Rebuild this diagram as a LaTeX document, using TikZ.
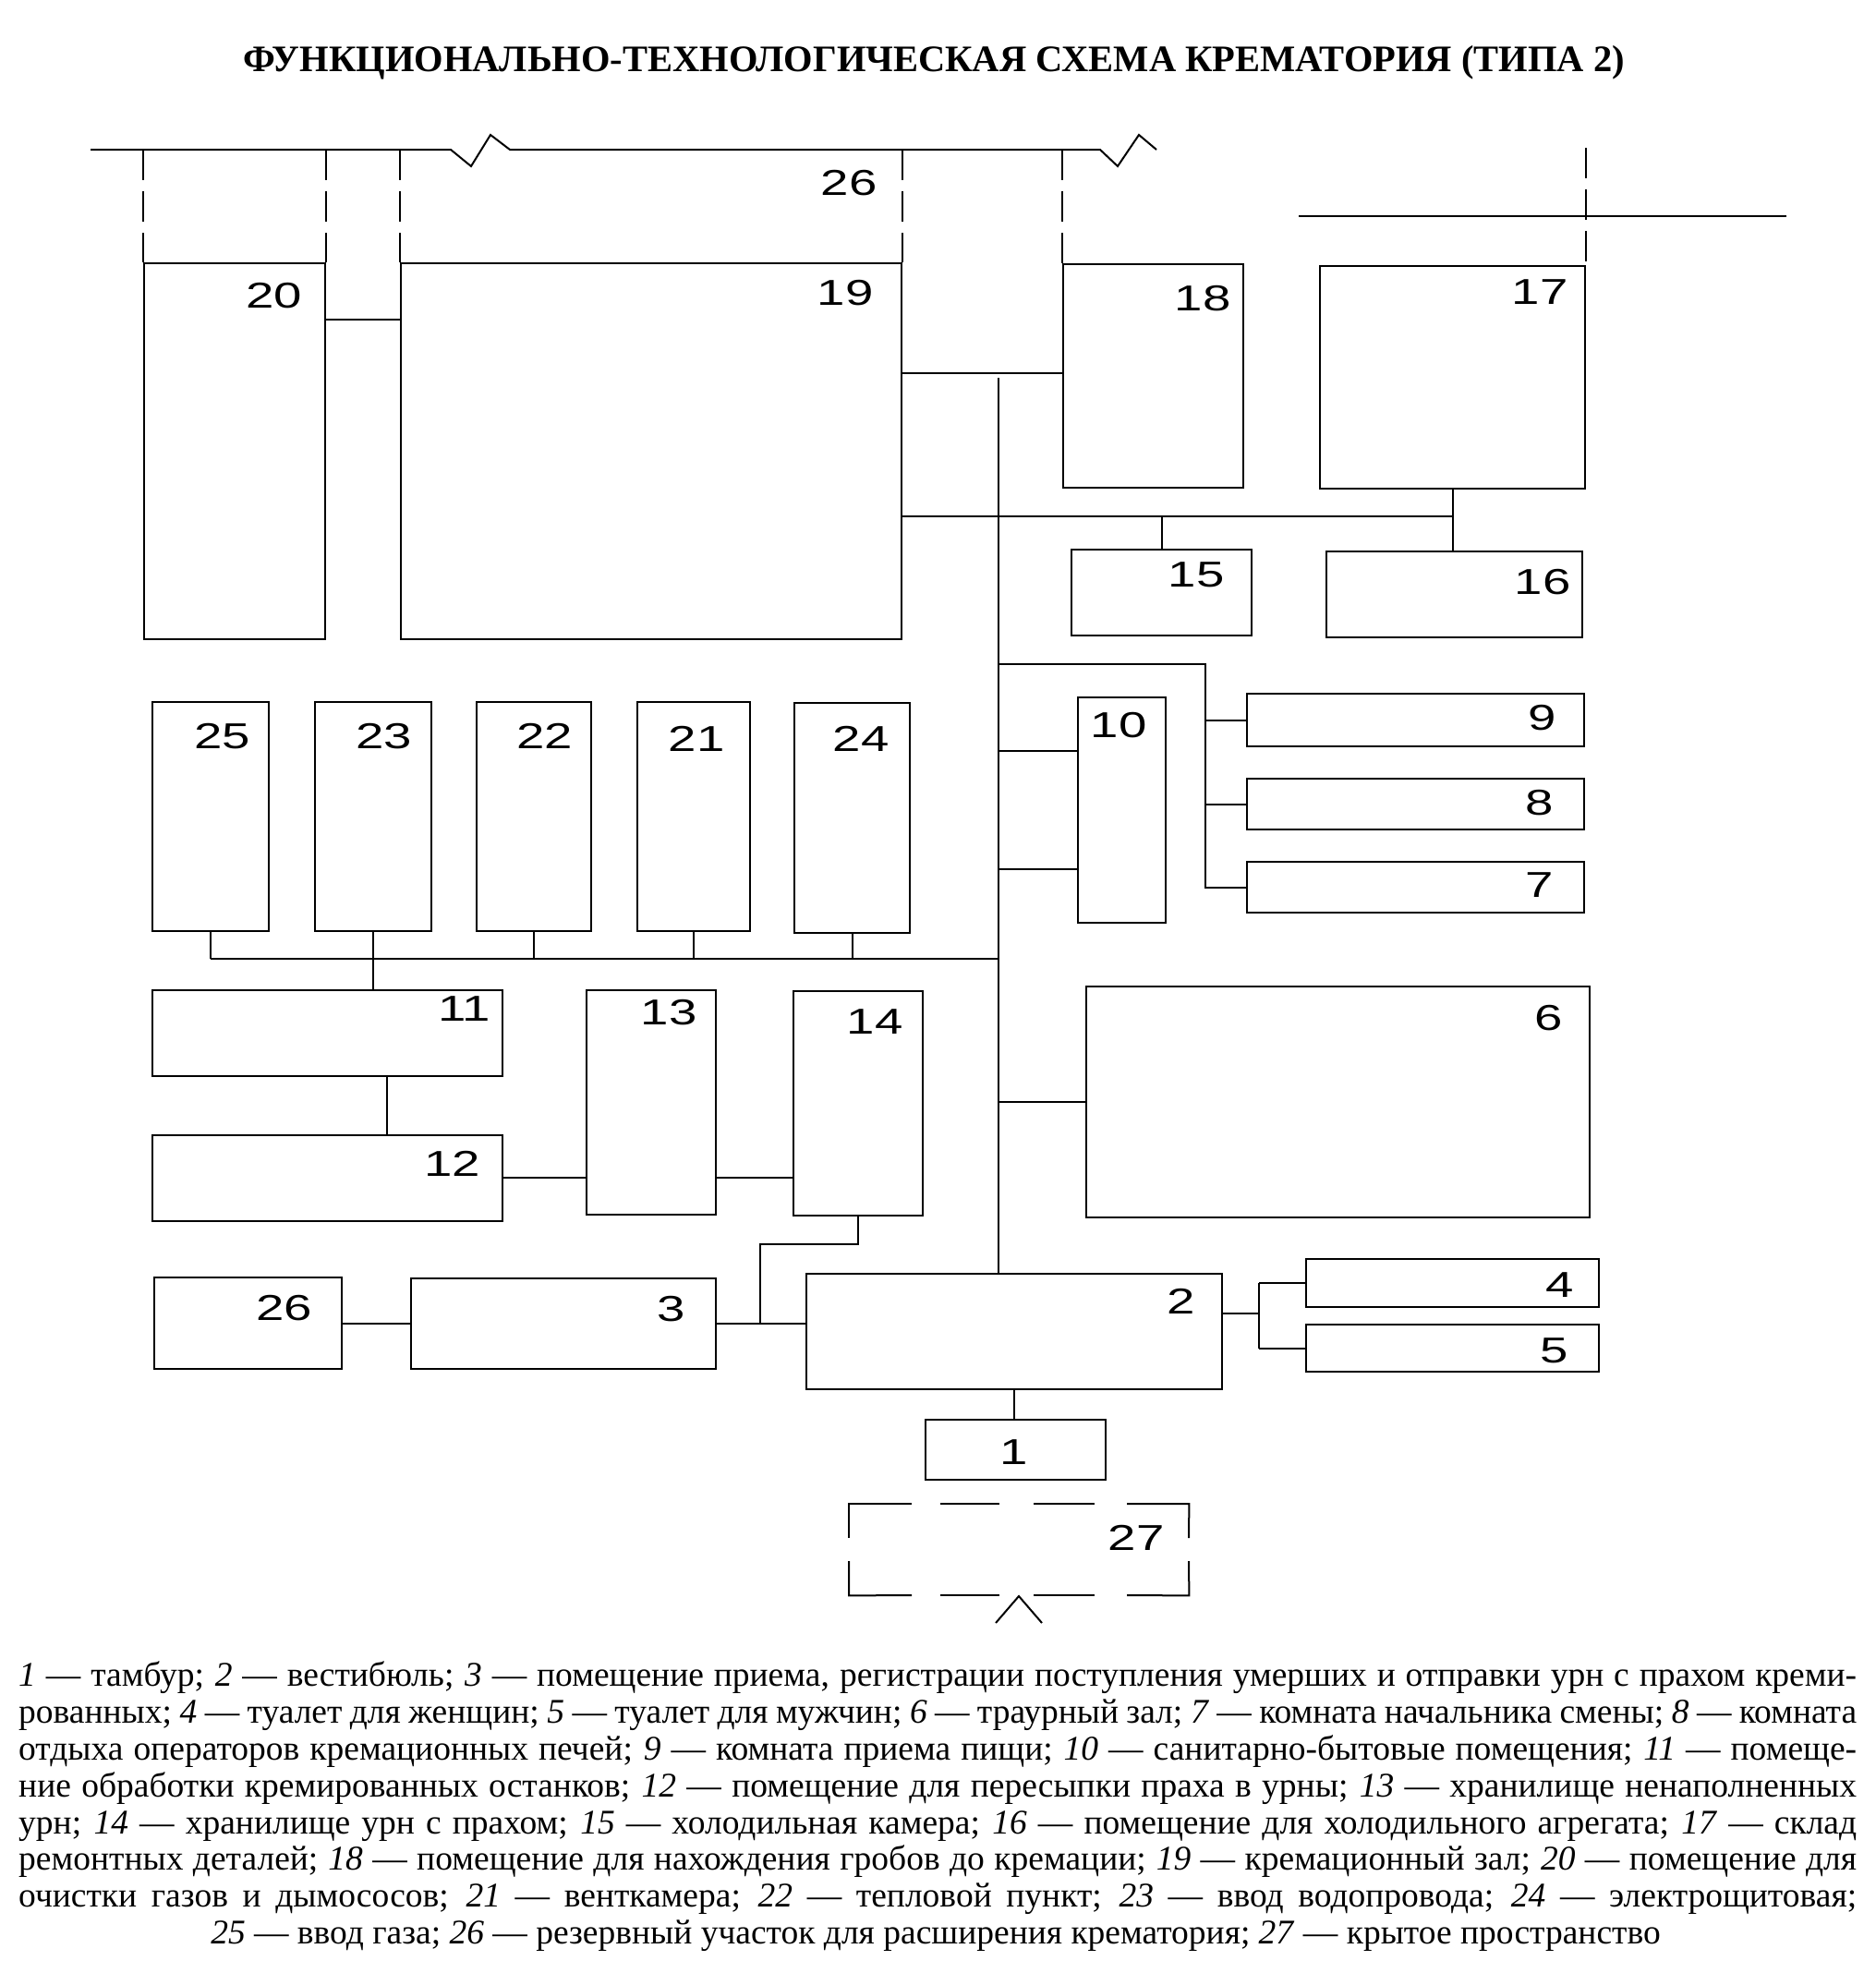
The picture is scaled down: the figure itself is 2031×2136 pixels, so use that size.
\documentclass[tikz,border=0pt]{standalone}
\usepackage{fontspec}
\setmainfont{Liberation Serif}
\newfontfamily\numfont{Liberation Sans}[FakeStretch=1.4]
\newcommand\legsp{\spaceskip=0.25em plus 0.6em minus 0.13em\relax}
\begin{document}
\begin{tikzpicture}[x=1pt,y=-1pt,
  box/.style={draw, line width=2pt, inner sep=0pt, anchor=north west},
  num/.style={font=\numfont\fontsize{39}{39}\selectfont, inner sep=0pt},
  link/.style={line width=2pt},
  zone/.style={line width=2pt, dash pattern=on 33pt off 12pt},
  legline/.style={font=\fontsize{37.5}{40}\selectfont, inner sep=0pt, anchor=base west},
]
\useasboundingbox (0,0) rectangle (2031,2136);
\fill[white] (0,0) rectangle (2031,2136);

\newcommand\roombox[5]{\node[box, minimum width={(#4-#2)*1pt}, minimum height={(#5-#3)*1pt}] (#1) at (#2,#3) {};}
\newcommand\legrow[1]{\legsp\makebox[1990pt][s]{#1}}

% title
\node[font=\bfseries\fontsize{40.5}{41}\selectfont, inner sep=0pt] (title) at (1011,68)
  {ФУНКЦИОНАЛЬНО-ТЕХНОЛОГИЧЕСКАЯ СХЕМА КРЕМАТОРИЯ (ТИПА 2)};

% rooms
\roombox{n20}{155}{284}{351}{691}
\roombox{n19}{433}{284}{975}{691}
\roombox{n18}{1150}{285}{1345}{527}
\roombox{n17}{1428}{287}{1715}{528}
\roombox{n15}{1159}{594}{1354}{687}
\roombox{n16}{1435}{596}{1712}{689}
\roombox{n10}{1166}{754}{1261}{998}
\roombox{n9}{1349}{750}{1714}{807}
\roombox{n8}{1349}{842}{1714}{897}
\roombox{n7}{1349}{932}{1714}{987}
\roombox{n25}{164}{759}{290}{1007}
\roombox{n23}{340}{759}{466}{1007}
\roombox{n22}{515}{759}{639}{1007}
\roombox{n21}{689}{759}{811}{1007}
\roombox{n24}{859}{760}{984}{1009}
\roombox{n11}{164}{1071}{543}{1164}
\roombox{n12}{164}{1228}{543}{1321}
\roombox{n13}{634}{1071}{774}{1314}
\roombox{n14}{858}{1072}{998}{1315}
\roombox{n6}{1175}{1067}{1720}{1317}
\roombox{n26b}{166}{1382}{369}{1481}
\roombox{n3}{444}{1383}{774}{1481}
\roombox{n2}{872}{1378}{1322}{1503}
\roombox{n4}{1413}{1362}{1730}{1414}
\roombox{n5}{1413}{1433}{1730}{1484}
\roombox{n1}{1001}{1536}{1196}{1601}
\node[inner sep=0pt, minimum width=368pt, minimum height=99pt, anchor=north west] (n27) at (919,1628) {};

% numbers
\node[num] (l26t) at (919,198) {26};
\node[num] (l20) at (297,320) {20};
\node[num] (l19) at (915,317) {19};
\node[num] (l18) at (1302,323) {18};
\node[num] (l17) at (1667,316) {17};
\node[num] (l15) at (1295,622) {15};
\node[num] (l16) at (1670,630) {16};
\node[num] (l10) at (1211,785) {10};
\node[num] (l9) at (1670,777) {9};
\node[num] (l8) at (1667,869) {8};
\node[num] (l7) at (1667,958) {7};
\node[num] (l25) at (241,797) {25};
\node[num] (l23) at (416,797) {23};
\node[num] (l22) at (590,797) {22};
\node[num] (l21) at (754,800) {21};
\node[num] (l24) at (932,800) {24};
\node[num] (l11) at (503,1092) {11};
\node[num] (l13) at (724,1096) {13};
\node[num] (l14) at (947,1106) {14};
\node[num] (l12) at (490,1260) {12};
\node[num] (l6) at (1677,1102) {6};
\node[num] (l26b) at (308,1416) {26};
\node[num] (l3) at (727,1417) {3};
\node[num] (l2) at (1279,1409) {2};
\node[num] (l4) at (1689,1391) {4};
\node[num] (l5) at (1683,1462) {5};
\node[num] (l1) at (1098,1572) {1};
\node[num] (l27) at (1230,1665) {27};

% top boundary of reserve zone 26
\draw[link] (98,162) -- (488,162) -- (510,180) -- (531,146) -- (552,162) -- (1191,162)
  -- (1210,180) -- (1233,146) -- (1252,162);
\draw[link] (1406,234) -- (1934,234);
\draw[zone] (n20.north west |- 0,162) -- (n20.north west);
\draw[zone] (n20.north east |- 0,162) -- (n20.north east);
\draw[zone] (n19.north west |- 0,162) -- (n19.north west);
\draw[zone] (n19.north east |- 0,162) -- (n19.north east);
\draw[zone] (n18.north west |- 0,162) -- (n18.north west);
\draw[zone] (n17.north east |- 0,160) -- (n17.north east);

% connectors
\coordinate (bus) at (1081,409);
\coordinate (tap) at (1305,719);
\coordinate (fork) at (1363,1422);
\draw[link] (bus) -- (bus |- n2.north);
\draw[link] (n20.east |- 0,346) -- (n19.west |- 0,346);
\draw[link] (n19.east |- 0,404) -- (n18.west |- 0,404);
\draw[link] (n19.east |- 0,559) -- (n17.south |- 0,559);
\draw[link] (n15.north) -- (n15.north |- 0,559);
\draw[link] (n17.south) -- (n17.south |- n16.north);
\draw[link] (bus |- tap) -- (tap) -- (tap |- n7.west) -- (n7.west);
\draw[link] (tap |- n9.west) -- (n9.west);
\draw[link] (tap |- n8.west) -- (n8.west);
\draw[link] (bus |- 0,813) -- (n10.west |- 0,813);
\draw[link] (bus |- 0,941) -- (n10.west |- 0,941);
\draw[link] (n25.south |- 0,1038) -- (bus |- 0,1038);
\draw[link] (n25.south) -- (n25.south |- 0,1038);
\draw[link] (n23.south) -- (n23.south |- n11.north);
\draw[link] (n22.south) -- (n22.south |- 0,1038);
\draw[link] (n21.south) -- (n21.south |- 0,1038);
\draw[link] (n24.south) -- (n24.south |- 0,1038);
\draw[link] (n11.south -| 419,0) -- (n12.north -| 419,0);
\draw[link] (n12.east |- 0,1275) -- (n13.west |- 0,1275);
\draw[link] (n13.east |- 0,1275) -- (n14.west |- 0,1275);
\draw[link] (n14.south) -- (n14.south |- 0,1347) -- (823,1347) -- (823,1432);
\draw[link] (n26b.east) -- (n3.west |- n26b.east);
\draw[link] (n3.east) -- (n2.west |- n3.east);
\draw[link] (bus |- n6.west) -- (n6.west);
\draw[link] (n2.east |- fork) -- (fork);
\draw[link] (fork |- n4.west) -- (fork |- n5.west);
\draw[link] (fork |- n4.west) -- (n4.west);
\draw[link] (fork |- n5.west) -- (n5.west);
\draw[link] (n2.south) -- (n2.south |- n1.north);

% covered space 27
\draw[link] (987,1628) -- (n27.north west) -- (919,1665);
\draw[link] (919,1690) -- (n27.south west) -- (987,1727);
\draw[link] (1220,1628) -- (n27.north east) -- (1287,1665);
\draw[link] (1287,1690) -- (n27.south east) -- (1220,1727);
\draw[link] (1018,1628) -- (1082,1628);
\draw[link] (1119,1628) -- (1185,1628);
\draw[link] (1018,1727) -- (1082,1727);
\draw[link] (1119,1727) -- (1185,1727);
\draw[link] (1078,1757) -- (1103,1728) -- (1128,1757);

% legend
\node[legline] (g1) at (20,1825) {\legrow{\textit{1} — тамбур; \textit{2} — вестибюль; \textit{3} — помещение приема, регистрации поступления умерших и отправки урн с прахом креми-}};
\node[legline] (g2) at (20,1865) {\legrow{рованных; \textit{4} — туалет для женщин; \textit{5} — туалет для мужчин; \textit{6} — траурный зал; \textit{7} — комната начальника смены; \textit{8} — комната}};
\node[legline] (g3) at (20,1905) {\legrow{отдыха операторов кремационных печей; \textit{9} — комната приема пищи; \textit{10} — санитарно-бытовые помещения; \textit{11} — помеще-}};
\node[legline] (g4) at (20,1945) {\legrow{ние обработки кремированных останков; \textit{12} — помещение для пересыпки праха в урны; \textit{13} — хранилище ненаполненных}};
\node[legline] (g5) at (20,1985) {\legrow{урн; \textit{14} — хранилище урн с прахом; \textit{15} — холодильная камера; \textit{16} — помещение для холодильного агрегата; \textit{17} — склад}};
\node[legline] (g6) at (20,2024) {\legrow{ремонтных деталей; \textit{18} — помещение для нахождения гробов до кремации; \textit{19} — кремационный зал; \textit{20} — помещение для}};
\node[legline] (g7) at (20,2064) {\legrow{очистки газов и дымососов; \textit{21} — венткамера; \textit{22} — тепловой пункт; \textit{23} — ввод водопровода; \textit{24} — электрощитовая;}};
\node[legline, anchor=base] (g8) at (1013,2104) {\legsp\textit{25} — ввод газа; \textit{26} — резервный участок для расширения крематория; \textit{27} — крытое пространство};
\end{tikzpicture}
\end{document}
